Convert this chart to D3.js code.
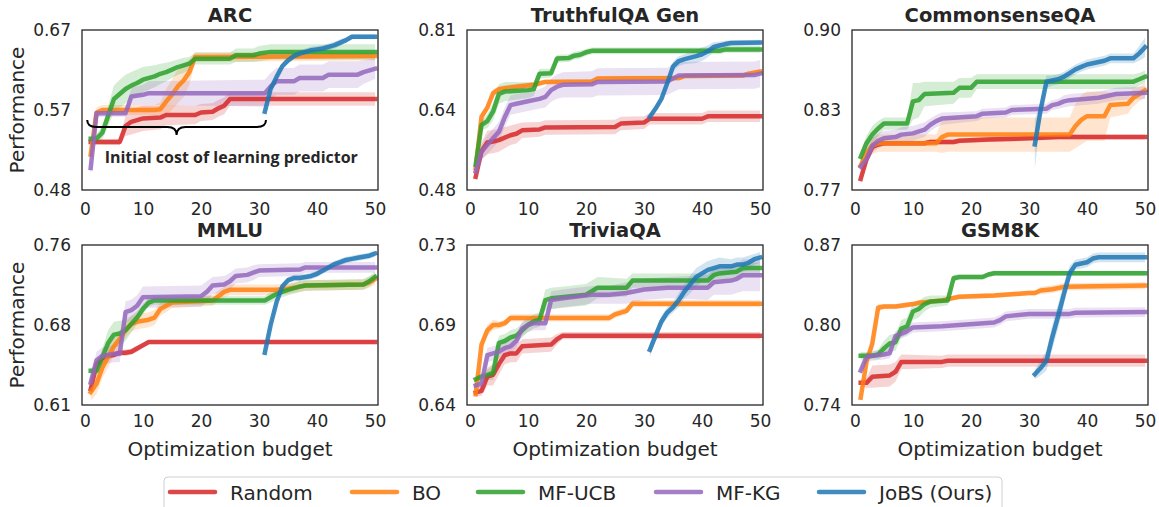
<!DOCTYPE html>
<html>
<head>
<meta charset="utf-8">
<script src="https://cdn.jsdelivr.net/npm/d3@7"></script>
<style>
  body { margin: 0; background: #fff; }
  text { font-family: "DejaVu Sans", sans-serif; fill: #262626; }
</style>
</head>
<body>
<script>
// ---- data ----
const methods = ["Random", "BO", "MF-UCB", "MF-KG", "JoBS (Ours)"];
const colors = ["#d62728", "#ff7f0e", "#2ca02c", "#9467bd", "#1f77b4"];
const tasks = ["ARC", "TruthfulQA Gen", "CommonsenseQA", "MMLU", "TriviaQA", "GSM8K"];
const xTicks = [0, 10, 20, 30, 40, 50];
const yDomains = [[0.48, 0.67], [0.48, 0.81], [0.77, 0.90], [0.61, 0.76], [0.64, 0.73], [0.74, 0.87]];
const yTickLabels = [
  ["0.48", "0.57", "0.67"], ["0.48", "0.64", "0.81"], ["0.77", "0.83", "0.90"],
  ["0.61", "0.68", "0.76"], ["0.64", "0.69", "0.73"], ["0.74", "0.80", "0.87"]
];

// [budget, mean, std]
const arcRandom = [[1,.537,.003],[6,.537,.004],[7,.556,.012],[8,.561,.015],[9,.563,.015],[10,.565,.015],[13,.566,.014],[14,.569,.012],[19,.569,.011],[20,.572,.010],[22,.573,.010],[23,.577,.010],[24,.580,.010],[25,.588,.008],[50,.588,.008]];
const arcBO = [[1,.522,.004],[2,.572,.006],[3,.575,.006],[12,.575,.006],[13,.576,.008],[14,.585,.015],[15,.593,.018],[16,.603,.02],[17,.61,.02],[18,.62,.015],[19,.638,.006],[50,.639,.005]];
const arcUCB = [[1,.541,.004],[2,.541,.005],[3,.548,.008],[4,.568,.012],[5,.588,.016],[6,.594,.017],[7,.600,.017],[8,.604,.016],[9,.607,.016],[10,.611,.015],[12,.615,.013],[13,.618,.012],[14,.620,.011],[15,.623,.010],[16,.626,.009],[17,.628,.009],[18,.630,.008],[19,.636,.007],[25,.636,.007],[26,.640,.008],[29,.640,.008],[30,.642,.009],[32,.644,.009],[50,.644,.009]];
const arcKG = [[1,.506,.008],[2,.571,.004],[7,.571,.004],[8,.591,.010],[10,.593,.012],[11,.595,.014],[31,.595,.016],[32,.603,.016],[33,.609,.016],[36,.609,.016],[37,.613,.016],[41,.613,.016],[42,.617,.016],[47,.617,.016],[48,.620,.014],[50,.624,.012]];
const arcJoBS = [[31,.573,.003],[32,.600,.004],[33,.614,.004],[34,.627,.004],[35,.634,.004],[36,.639,.004],[37,.642,.004],[38,.644,.004],[39,.646,.004],[40,.647,.004],[41,.648,.004],[42,.650,.004],[43,.652,.004],[44,.655,.004],[45,.658,.003],[46,.662,.003],[50,.662,.003]];

const tqaRandom = [[1,.507,.005],[2,.560,.018],[3,.578,.024],[4,.580,.024],[5,.583,.024],[6,.588,.022],[7,.593,.02],[8,.596,.02],[9,.603,.016],[12,.605,.015],[13,.609,.015],[25,.610,.015],[26,.617,.014],[30,.619,.013],[31,.627,.012],[40,.627,.012],[41,.632,.012],[50,.632,.012]];
const tqaBO = [[1,.525,.005],[2,.631,.008],[3,.650,.008],[4,.680,.008],[5,.688,.006],[6,.690,.006],[8,.693,.006],[11,.697,.006],[13,.703,.005],[21,.704,.005],[22,.710,.005],[36,.711,.005],[37,.715,.005],[47,.716,.005],[48,.720,.005],[50,.724,.006]];
const tqaUCB = [[1,.532,.005],[2,.614,.010],[3,.622,.014],[4,.642,.018],[5,.678,.02],[6,.683,.02],[10,.686,.016],[11,.688,.014],[12,.720,.01],[14,.721,.009],[15,.751,.008],[17,.752,.008],[18,.757,.008],[19,.759,.008],[20,.764,.007],[21,.767,.007],[43,.767,.007],[44,.770,.007],[50,.770,.007]];
const tqaKG = [[1,.518,.006],[2,.559,.015],[3,.573,.02],[4,.587,.02],[5,.600,.02],[6,.630,.02],[7,.655,.02],[8,.658,.02],[10,.663,.02],[12,.668,.02],[13,.672,.022],[14,.686,.024],[15,.693,.025],[16,.697,.026],[21,.698,.027],[22,.703,.028],[34,.704,.028],[35,.710,.028],[36,.716,.028],[49,.717,.028],[50,.720,.028]];
const tqaJoBS = [[31,.631,.004],[32,.648,.006],[33,.668,.008],[34,.700,.010],[35,.735,.010],[36,.746,.010],[37,.750,.010],[38,.753,.012],[39,.756,.014],[40,.760,.014],[41,.766,.012],[42,.775,.010],[43,.778,.008],[44,.781,.007],[45,.783,.006],[50,.784,.006]];

const csRandom = [[1,.779,.002],[2,.795,.003],[3,.805,.003],[4,.807,.002],[5,.808,.002],[12,.808,.002],[13,.809,.002],[17,.809,.002],[18,.810,.002],[23,.811,.002],[30,.812,.002],[35,.813,.002],[50,.813,.002]];
const csBO = [[1,.790,.005],[2,.800,.006],[3,.806,.007],[4,.808,.007],[14,.808,.007],[15,.813,.013],[16,.815,.014],[37,.815,.014],[38,.822,.018],[39,.827,.02],[40,.830,.02],[43,.830,.02],[44,.839,.01],[47,.840,.008],[48,.845,.007],[49,.848,.006],[50,.851,.006]];
const csUCB = [[1,.797,.004],[2,.808,.006],[3,.815,.007],[4,.820,.006],[5,.824,.005],[9,.824,.005],[10,.842,.015],[11,.843,.014],[12,.848,.010],[17,.849,.009],[18,.853,.008],[20,.853,.008],[21,.858,.006],[48,.858,.006],[49,.860,.005],[50,.862,.005]];
const csKG = [[1,.789,.003],[2,.795,.005],[3,.806,.006],[4,.810,.006],[5,.812,.006],[7,.813,.006],[8,.815,.006],[10,.816,.006],[12,.819,.006],[13,.823,.005],[14,.826,.005],[15,.828,.005],[21,.830,.004],[22,.832,.004],[26,.833,.004],[27,.835,.004],[33,.836,.004],[34,.839,.004],[35,.840,.004],[36,.842,.005],[37,.843,.005],[42,.845,.005],[43,.846,.005],[45,.848,.005],[50,.849,.005]];
const csJoBS = [[31,.807,.02],[32,.835,.006],[33,.858,.005],[34,.859,.004],[35,.860,.004],[36,.862,.004],[37,.865,.004],[38,.868,.004],[39,.870,.004],[40,.872,.004],[41,.873,.004],[42,.874,.004],[43,.875,.004],[44,.877,.004],[48,.877,.004],[49,.881,.006],[50,.886,.008]];

const mmRandom = [[1,.625,.003],[2,.648,.004],[3,.654,.004],[4,.656,.003],[5,.657,.003],[6,.659,.003],[7,.659,.003],[8,.660,.003],[9,.663,.003],[10,.666,.002],[11,.669,.002],[50,.669,.002]];
const mmBO = [[1,.622,.008],[2,.630,.01],[3,.645,.01],[4,.655,.01],[5,.665,.008],[6,.672,.008],[7,.680,.007],[8,.686,.007],[9,.688,.007],[11,.690,.007],[12,.692,.007],[13,.700,.006],[14,.703,.006],[15,.706,.005],[22,.708,.005],[23,.712,.005],[24,.716,.005],[25,.718,.005],[33,.718,.005],[35,.719,.005],[37,.721,.005],[38,.722,.005],[48,.723,.005],[49,.725,.005],[50,.728,.005]];
const mmUCB = [[1,.642,.003],[2,.642,.004],[3,.655,.008],[4,.668,.012],[5,.676,.012],[6,.677,.012],[7,.680,.01],[8,.686,.008],[9,.692,.006],[10,.700,.005],[11,.706,.004],[12,.708,.004],[31,.708,.004],[32,.711,.005],[33,.714,.005],[34,.716,.005],[35,.718,.005],[37,.721,.005],[38,.722,.005],[48,.723,.005],[49,.726,.005],[50,.730,.005]];
const mmKG = [[1,.631,.004],[2,.652,.008],[3,.656,.008],[4,.657,.008],[5,.658,.008],[6,.658,.008],[7,.697,.01],[8,.699,.01],[9,.703,.01],[10,.711,.01],[20,.712,.01],[21,.716,.01],[22,.722,.008],[24,.723,.008],[25,.726,.008],[26,.731,.007],[28,.732,.007],[29,.734,.007],[30,.736,.006],[37,.737,.006],[38,.739,.005],[50,.739,.005]];
const mmJoBS = [[31,.659,.002],[32,.685,.003],[33,.706,.003],[34,.721,.003],[35,.727,.003],[36,.729,.003],[37,.729,.003],[38,.730,.003],[39,.731,.003],[40,.733,.003],[41,.736,.003],[42,.739,.003],[43,.742,.003],[44,.744,.003],[45,.746,.003],[46,.747,.003],[47,.748,.003],[48,.749,.003],[49,.750,.003],[50,.752,.003]];

const tvRandom = [[1,.647,.002],[2,.648,.003],[3,.656,.005],[4,.657,.006],[5,.663,.006],[6,.668,.005],[7,.669,.005],[8,.669,.005],[9,.673,.004],[14,.674,.004],[15,.677,.003],[16,.679,.002],[50,.679,.002]];
const tvBO = [[1,.646,.002],[2,.674,.003],[3,.682,.003],[4,.685,.003],[5,.685,.002],[6,.686,.002],[7,.689,.002],[24,.689,.002],[25,.691,.002],[26,.692,.002],[27,.693,.002],[28,.697,.002],[50,.697,.002]];
const tvUCB = [[1,.6545,.002],[2,.656,.002],[3,.657,.003],[4,.658,.004],[5,.675,.004],[6,.676,.004],[7,.678,.004],[8,.679,.004],[9,.682,.004],[10,.685,.004],[11,.687,.004],[12,.688,.004],[13,.699,.006],[14,.700,.006],[17,.701,.006],[20,.702,.006],[21,.704,.006],[22,.706,.006],[27,.706,.005],[28,.710,.004],[41,.710,.004],[42,.713,.004],[43,.714,.004],[46,.715,.003],[47,.717,.003],[50,.717,.003]];
const tvKG = [[1,.651,.002],[2,.652,.002],[3,.668,.004],[4,.669,.004],[5,.670,.004],[6,.672,.004],[7,.673,.004],[8,.676,.004],[9,.683,.004],[10,.685,.004],[11,.686,.004],[13,.686,.004],[14,.699,.005],[16,.700,.005],[21,.702,.005],[24,.702,.005],[27,.703,.006],[30,.705,.006],[34,.706,.006],[41,.706,.007],[42,.709,.007],[45,.710,.008],[46,.711,.008],[47,.713,.009],[50,.713,.009]];
const tvJoBS = [[31,.671,.004],[32,.679,.003],[33,.687,.003],[34,.692,.003],[35,.695,.003],[36,.699,.004],[37,.704,.004],[38,.708,.005],[39,.712,.005],[40,.714,.005],[41,.716,.005],[42,.717,.005],[43,.718,.005],[45,.718,.004],[46,.719,.004],[47,.719,.004],[48,.720,.004],[49,.722,.003],[50,.723,.003]];

const gsRandom = [[1,.758,.002],[2,.758,.004],[3,.763,.009],[6,.764,.009],[7,.767,.008],[8,.775,.006],[15,.775,.005],[16,.776,.005],[50,.776,.005]];
const gsBO = [[1,.746,.003],[2,.775,.004],[3,.790,.004],[4,.819,.003],[5,.820,.002],[7,.820,.002],[10,.822,.002],[11,.823,.002],[15,.825,.002],[16,.826,.002],[18,.828,.002],[24,.829,.002],[30,.831,.002],[31,.831,.002],[32,.833,.003],[34,.834,.003],[36,.836,.003],[50,.837,.003]];
const gsUCB = [[1,.780,.003],[3,.780,.003],[4,.781,.004],[5,.786,.006],[6,.790,.007],[7,.791,.007],[8,.802,.007],[9,.804,.007],[10,.816,.007],[11,.818,.007],[12,.822,.006],[13,.824,.005],[16,.825,.004],[17,.843,.003],[18,.844,.002],[22,.844,.002],[23,.846,.002],[24,.847,.002],[50,.847,.002]];
const gsKG = [[1,.768,.003],[2,.779,.004],[3,.780,.004],[5,.781,.004],[6,.782,.004],[7,.796,.004],[8,.798,.004],[9,.800,.004],[10,.803,.004],[15,.804,.004],[21,.806,.004],[24,.807,.004],[25,.809,.004],[26,.812,.004],[30,.814,.004],[37,.814,.004],[38,.815,.004],[50,.8155,.004]];
const gsJoBS = [[31,.765,.004],[32,.770,.006],[33,.776,.008],[34,.795,.010],[35,.812,.010],[36,.830,.009],[37,.847,.006],[38,.854,.004],[39,.855,.004],[40,.856,.004],[41,.859,.004],[42,.860,.004],[50,.860,.004]];

const panelSeries = [
  [arcRandom, arcBO, arcUCB, arcKG, arcJoBS],
  [tqaRandom, tqaBO, tqaUCB, tqaKG, tqaJoBS],
  [csRandom, csBO, csUCB, csKG, csJoBS],
  [mmRandom, mmBO, mmUCB, mmKG, mmJoBS],
  [tvRandom, tvBO, tvUCB, tvKG, tvJoBS],
  [gsRandom, gsBO, gsUCB, gsKG, gsJoBS]
];

// ---- layout ----
const W = 1159, H = 507;
const colLeft = [82, 467, 852];
const rowTop = [30, 245];
const pw = 296, ph = 160;

const svg = d3.select("body").append("svg")
    .attr("width", W).attr("height", H);

panelSeries.forEach((seriesList, p) => {
  const col = p % 3, row = Math.floor(p / 3);
  const g = svg.append("g")
      .attr("transform", `translate(${colLeft[col]},${rowTop[row]})`);

  const x = d3.scaleLinear().domain([-0.5, 50.5]).range([0, pw]);
  const y = d3.scaleLinear().domain(yDomains[p]).range([ph, 0]);

  const clipId = "clip" + p;
  g.append("clipPath").attr("id", clipId)
    .append("rect").attr("width", pw).attr("height", ph);

  const plot = g.append("g").attr("clip-path", `url(#${clipId})`);

  const area = d3.area()
      .x(d => x(d[0]))
      .y0(d => y(d[1] - d[2]))
      .y1(d => y(d[1] + d[2]));
  const line = d3.line()
      .x(d => x(d[0]))
      .y(d => y(d[1]));

  seriesList.forEach((s, i) => {
    plot.append("path").attr("d", area(s))
        .attr("fill", colors[i]).attr("fill-opacity", 0.2);
  });
  seriesList.forEach((s, i) => {
    plot.append("path").attr("d", line(s))
        .attr("fill", "none")
        .attr("stroke", colors[i])
        .attr("stroke-opacity", 0.85)
        .attr("stroke-width", 4.5)
        .attr("stroke-linejoin", "round")
        .attr("stroke-linecap", "square");
  });

  // frame
  g.append("rect").attr("width", pw).attr("height", ph)
      .attr("fill", "none").attr("stroke", "#262626").attr("stroke-width", 1.3);

  // axes
  const [lo, hi] = yDomains[p];
  const yAxis = d3.axisLeft(y)
      .tickValues([lo, (lo + hi) / 2, hi])
      .tickFormat((d, i) => yTickLabels[p][i])
      .tickSize(0).tickPadding(11);
  const ya = g.append("g").call(yAxis);
  ya.select(".domain").remove();
  ya.selectAll("text").style("font-size", "17px").attr("fill", "#262626")
      .style("font-family", "DejaVu Sans");

  const xAxis = d3.axisBottom(x).tickValues(xTicks).tickSize(0).tickPadding(row === 0 ? 13 : 10);
  const xa = g.append("g").attr("transform", `translate(0,${ph})`).call(xAxis);
  xa.select(".domain").remove();
  xa.selectAll("text").style("font-size", "17px").attr("fill", "#262626")
      .style("font-family", "DejaVu Sans");

  // title
  g.append("text").attr("x", pw / 2).attr("y", -8)
      .attr("text-anchor", "middle")
      .style("font-size", "19.5px").style("font-weight", "bold")
      .text(tasks[p]);

  if (col === 0) {
    g.append("text")
        .attr("transform", `translate(-58,${ph / 2}) rotate(-90)`)
        .attr("text-anchor", "middle")
        .style("font-size", "20px")
        .text("Performance");
  }
  if (row === 1) {
    g.append("text").attr("x", pw / 2).attr("y", ph + 51)
        .attr("text-anchor", "middle")
        .style("font-size", "20px")
        .text("Optimization budget");
  }

  if (p === 0) {
    // brace annotation for the warm-up phase of JoBS
    const bx0 = x(0.4), bx1 = x(31.2), bm = (bx0 + bx1) / 2;
    const yTip = y(0.563), yBase = y(0.5548), yMid = y(0.5453), q = 9;
    const brace = `M${bx0},${yTip} Q${bx0},${yBase} ${bx0 + q},${yBase} L${bm - q},${yBase}`
      + ` Q${bm},${yBase} ${bm},${yMid} Q${bm},${yBase} ${bm + q},${yBase}`
      + ` L${bx1 - q},${yBase} Q${bx1},${yBase} ${bx1},${yTip}`;
    g.append("path").attr("d", brace)
        .attr("fill", "none").attr("stroke", "#000").attr("stroke-width", 2);
    g.append("text").attr("x", x(3.4)).attr("y", y(0.512))
        .style("font-family", "'Open Sans', sans-serif")
        .style("font-weight", "bold").style("font-size", "16px")
        .attr("fill", "#000")
        .text("Initial cost of learning predictor");
  }
});

// ---- legend ----
const legend = svg.append("g");
legend.append("rect")
    .attr("x", 164).attr("y", 477).attr("width", 838).attr("height", 45)
    .attr("rx", 4).attr("fill", "#fff").attr("stroke", "#d0d0d0").attr("stroke-width", 1);
const legendX = [170, 352, 478, 656, 819];
methods.forEach((m, i) => {
  const e = legend.append("g").attr("transform", `translate(${legendX[i]},492)`);
  e.append("line").attr("x1", 0).attr("x2", 45).attr("y1", 0).attr("y2", 0)
      .attr("stroke", colors[i]).attr("stroke-opacity", 0.85)
      .attr("stroke-width", 4.5).attr("stroke-linecap", "round");
  e.append("text").attr("x", 60).attr("y", 7.5)
      .style("font-size", "20px")
      .text(m);
});
</script>
</body>
</html>
